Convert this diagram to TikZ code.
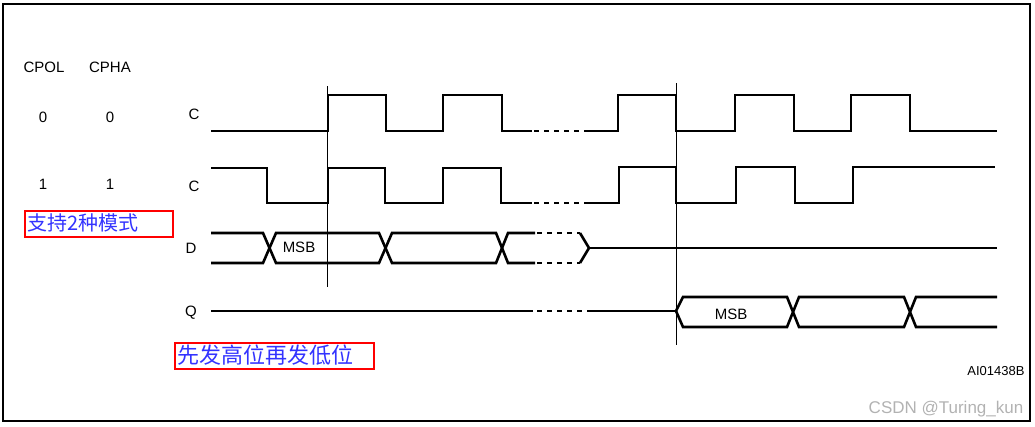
\documentclass[tikz,border=0pt]{standalone}
\usepackage{fontspec}
\setmainfont{Liberation Sans}
\newfontfamily\cjk{Noto Sans CJK SC}
\begin{document}
\begin{tikzpicture}[x=1pt,y=-1pt,
  sig/.style={line width=2.6pt,line join=miter},
  dsig/.style={line width=2.6pt,dash pattern=on 5pt off 5pt},
  vmark/.style={line width=1pt},
  lbl/.style={font=\fontsize{15}{17}\selectfont,inner sep=0pt},
  redbox/.style={draw=red,line width=1.5pt,inner sep=0pt}]
\useasboundingbox (0,0) rectangle (1035,426);
\draw[line width=1.8pt] (3,4) rectangle (1030,421);
% labels
\node[lbl] (cpol) at (44,67) {CPOL};
\node[lbl] (cpha) at (110,67) {CPHA};
\node[lbl] (a0) at (43,117) {0};
\node[lbl] (b0) at (110,117) {0};
\node[lbl] (a1) at (43,184) {1};
\node[lbl] (b1) at (110,184) {1};
\node[lbl] (lc1) at (194,114) {C};
\node[lbl] (lc2) at (194,186) {C};
\node[lbl] (ld) at (191,248) {D};
\node[lbl] (lq) at (191,313) {Q};
\node[lbl] (msb1) at (299,247) {MSB};
\node[lbl] (msb2) at (731,314) {MSB};
\node[lbl,font=\fontsize{13}{15}\selectfont] (ai) at (996,371) {AI01438B};
\node[lbl,text=gray!60,font=\fontsize{17}{19}\selectfont] (csdn) at (946,409) {CSDN @Turing\_kun};
% red boxes
\draw[redbox] (25,211) rectangle (173,237);
\node[inner sep=0pt,anchor=west,text=blue!80,font=\cjk\fontsize{20}{22}\selectfont] (t1) at (27,223) {支持2种模式};
\draw[redbox] (175,343) rectangle (374,369);
\node[inner sep=0pt,anchor=west,text=blue!80,font=\cjk\fontsize{22}{24}\selectfont] (t2) at (177,355) {先发高位再发低位};
% markers
\draw[vmark] (327,86) -- (327,287);
\draw[vmark] (676,83) -- (676,345);
% row 1
\draw[sig] (211,131) -- (328,131) -- (328,95) -- (386,95) -- (386,131) -- (443,131) -- (443,95) -- (502,95) -- (502,131) -- (532,131);
\draw[dsig] (534,131) -- (588,131);
\draw[sig] (588,131) -- (618,131) -- (618,95) -- (676,95) -- (676,131) -- (735,131) -- (735,95) -- (794,95) -- (794,131) -- (851,131) -- (851,95) -- (910,95) -- (910,131) -- (997,131);
% row 2
\draw[sig] (211,168) -- (267,168) -- (267,203) -- (328,203) -- (328,168) -- (385,168) -- (385,203) -- (443,203) -- (443,168) -- (501,168) -- (501,203) -- (532,203);
\draw[dsig] (534,203) -- (588,203);
\draw[sig] (588,203) -- (619,203) -- (619,167) -- (676,167) -- (676,203) -- (736,203) -- (736,167) -- (795,167) -- (795,203) -- (853,203) -- (853,167) -- (995,167);
% row 3 D
\draw[sig] (211,233) -- (263,233) -- (276,263) -- (379,263) -- (392,233) -- (496,233) -- (508,263) -- (535,263);
\draw[sig] (211,263) -- (263,263) -- (276,233) -- (379,233) -- (392,263) -- (496,263) -- (508,233) -- (535,233);
\draw[dsig] (537,233) -- (580,233);
\draw[dsig] (537,263) -- (580,263);
\draw[sig] (580,233) -- (589,248) -- (580,263);
\draw[sig] (589,248) -- (997,248);
% row 4 Q
\draw[sig] (211,311) -- (533,311);
\draw[dsig] (537,311) -- (588,311);
\draw[sig] (588,311) -- (676,311);
\draw[sig] (997,297) -- (916,297) -- (904,327) -- (799,327) -- (787,297) -- (683,297) -- (676,311) -- (683,327) -- (787,327) -- (799,297) -- (904,297) -- (916,327) -- (997,327);
\end{tikzpicture}
\end{document}
